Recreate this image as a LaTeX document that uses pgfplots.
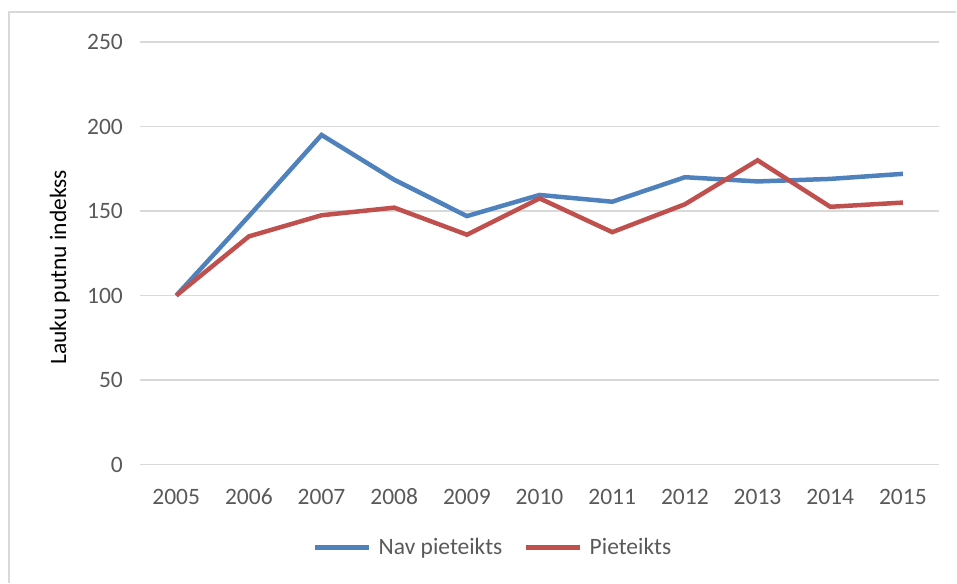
\documentclass[border=0pt]{standalone}
\usepackage{pgfplots}
\pgfplotsset{compat=1.18}
\usepackage{fontspec}
\setmainfont{Carlito}
\definecolor{sblue}{HTML}{4F81BD}
\definecolor{sred}{HTML}{C0504D}
\definecolor{gridc}{HTML}{D9D9D9}
\definecolor{txt}{HTML}{595959}
\begin{document}
\begin{tikzpicture}[font=\fontsize{11.8}{14}\selectfont]
\begin{axis}[
  name=ax,
  width=400bp, height=211.5bp, scale only axis,
  xmin=2004.5, xmax=2015.5, ymin=0, ymax=250,
  xtick={2005,...,2015}, ytick={0,50,...,250},
  xticklabel style={/pgf/number format/1000 sep={}},
  /pgf/number format/assume math mode=true,
  ymajorgrids, grid style={gridc, line width=0.75bp},
  axis line style={draw=none},
  major tick length=0pt,
  tick label style={text=txt},
  yticklabel style={xshift=-5bp},
  xticklabel style={anchor=base, yshift=-20bp},
  ylabel={Lauku putnu indekss},
  ylabel style={text=black!85},
  every axis y label/.style={at={(rel axis cs:0,0.467)}, xshift=-40bp, rotate=90, anchor=center},
  legend columns=2,
  legend style={at={(rel axis cs:0.4445,0)}, anchor=center, yshift=-41.5bp, draw=none, fill=none,
    /tikz/every even column/.append style={column sep=7bp}, text=txt, inner sep=0pt,
    nodes={inner xsep=3.5bp}},
  legend image code/.code={\draw[#1] (0bp,0bp) -- (27.5bp,0bp);},
]
\draw[gridc, line width=0.75bp] (rel axis cs:0,0) -- (rel axis cs:1,0);
\addplot[sblue, line width=2.25bp] coordinates {
(2005,100) (2006,147) (2007,195) (2008,168.5) (2009,147) (2010,159.5) (2011,155.5) (2012,170) (2013,167.5) (2014,169) (2015,172)};
\addlegendentry{Nav pieteikts}
\addplot[sred, line width=2.25bp] coordinates {
(2005,100) (2006,135) (2007,147.5) (2008,152) (2009,136) (2010,157.5) (2011,137.5) (2012,154) (2013,180) (2014,152.5) (2015,155)};
\addlegendentry{Pieteikts}
\end{axis}
\draw[gridc, line width=0.75bp] ([xshift=-65.5bp,yshift=-59bp]ax.south west) -- ([xshift=-65.5bp,yshift=15bp]ax.north west) -- ([xshift=8.5bp,yshift=15bp]ax.north east);
\path[use as bounding box] ([xshift=-70bp,yshift=-59bp]ax.south west) rectangle ([xshift=8.5bp,yshift=21bp]ax.north east);
\end{tikzpicture}
\end{document}
